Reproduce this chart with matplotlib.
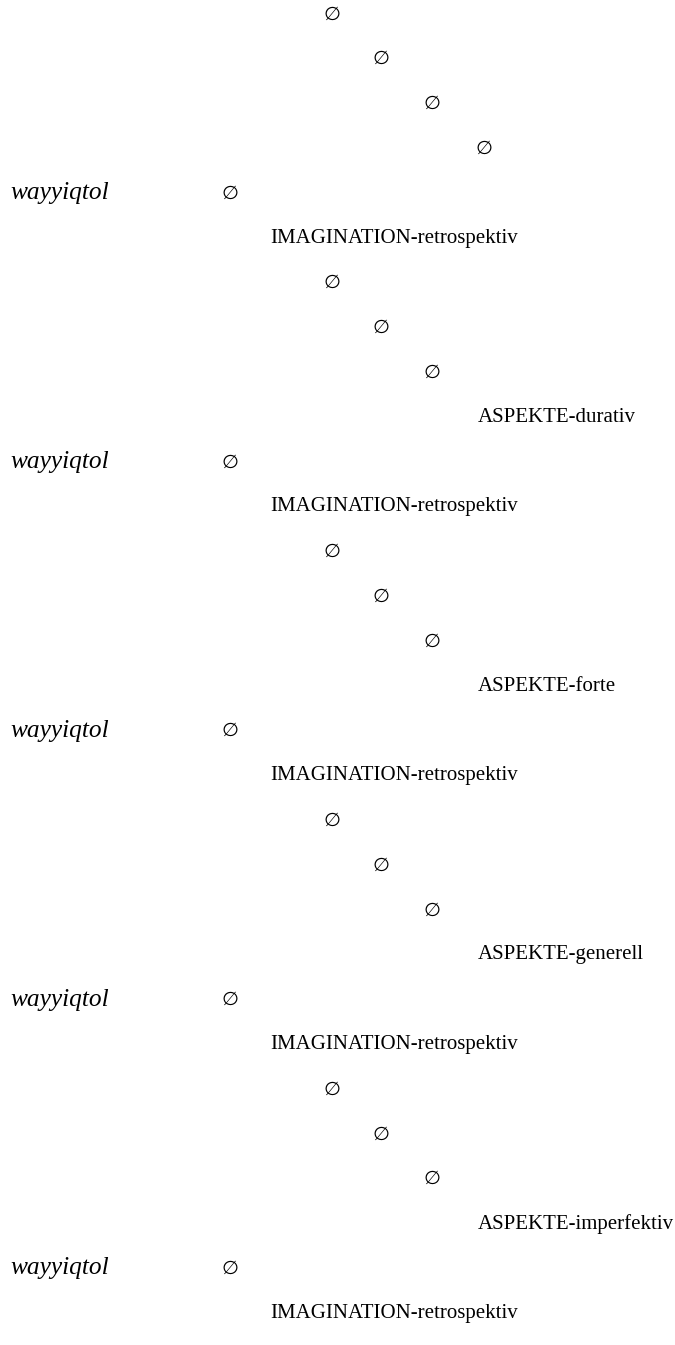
import matplotlib
matplotlib.use("Agg")
import matplotlib.pyplot as plt

# =============================
# Data: the derivation tree, row by row
# =============================
verb_form = "wayyiqtol"
imagination = "IMAGINATION-retrospektiv"
aspects = ["durativ", "forte", "generell", "imperfektiv"]
empty = "\u2205"

# leading empty nodes above the first verb form (levels)
lead_levels = [2, 3, 4, 5]

# column anchors in pixels (x) for each level
level_x = {"verb": 10, 1: 230, "imag": 270, 2: 332, 3: 381, 4: 432, 5: 484, "asp": 478}

# build rows: (row index, x key, text, kind)
rows = []
r = 0
for lv in lead_levels:
    rows.append((r, lv, empty, "empty"))
    r += 1
for i in range(len(aspects) + 1):
    rows.append((r, "verb", verb_form, "verb"))
    rows.append((r, 1, empty, "empty"))
    r += 1
    rows.append((r, "imag", imagination, "label"))
    r += 1
    if i < len(aspects):
        for lv in [2, 3, 4]:
            rows.append((r, lv, empty, "empty"))
            r += 1
        rows.append((r, "asp", "ASPEKTE-" + aspects[i], "label"))
        r += 1

# =============================
# Figure
# =============================
fig = plt.figure(figsize=(6.75, 13.45), dpi=100)
ax = fig.add_axes([0, 0, 1, 1])
ax.set_xlim(0, 675)
pitch = 44.8
top = 14
ax.set_ylim((1345 - top) / pitch, -top / pitch)
ax.axis("off")

for row, key, text, kind in rows:
    x = level_x[key]
    if kind == "verb":
        ax.text(x, row, text, fontsize=18.3, style="italic",
                family=["Liberation Serif", "DejaVu Serif"], ha="left", va="center")
    elif kind == "empty":
        ax.text(x, row, text, fontsize=14,
                family=["DejaVu Sans"], ha="center", va="center")
    else:
        ax.text(x, row, text, fontsize=15,
                family=["Liberation Serif", "DejaVu Serif"], ha="left", va="center")

fig.savefig("out.png", dpi=100)
